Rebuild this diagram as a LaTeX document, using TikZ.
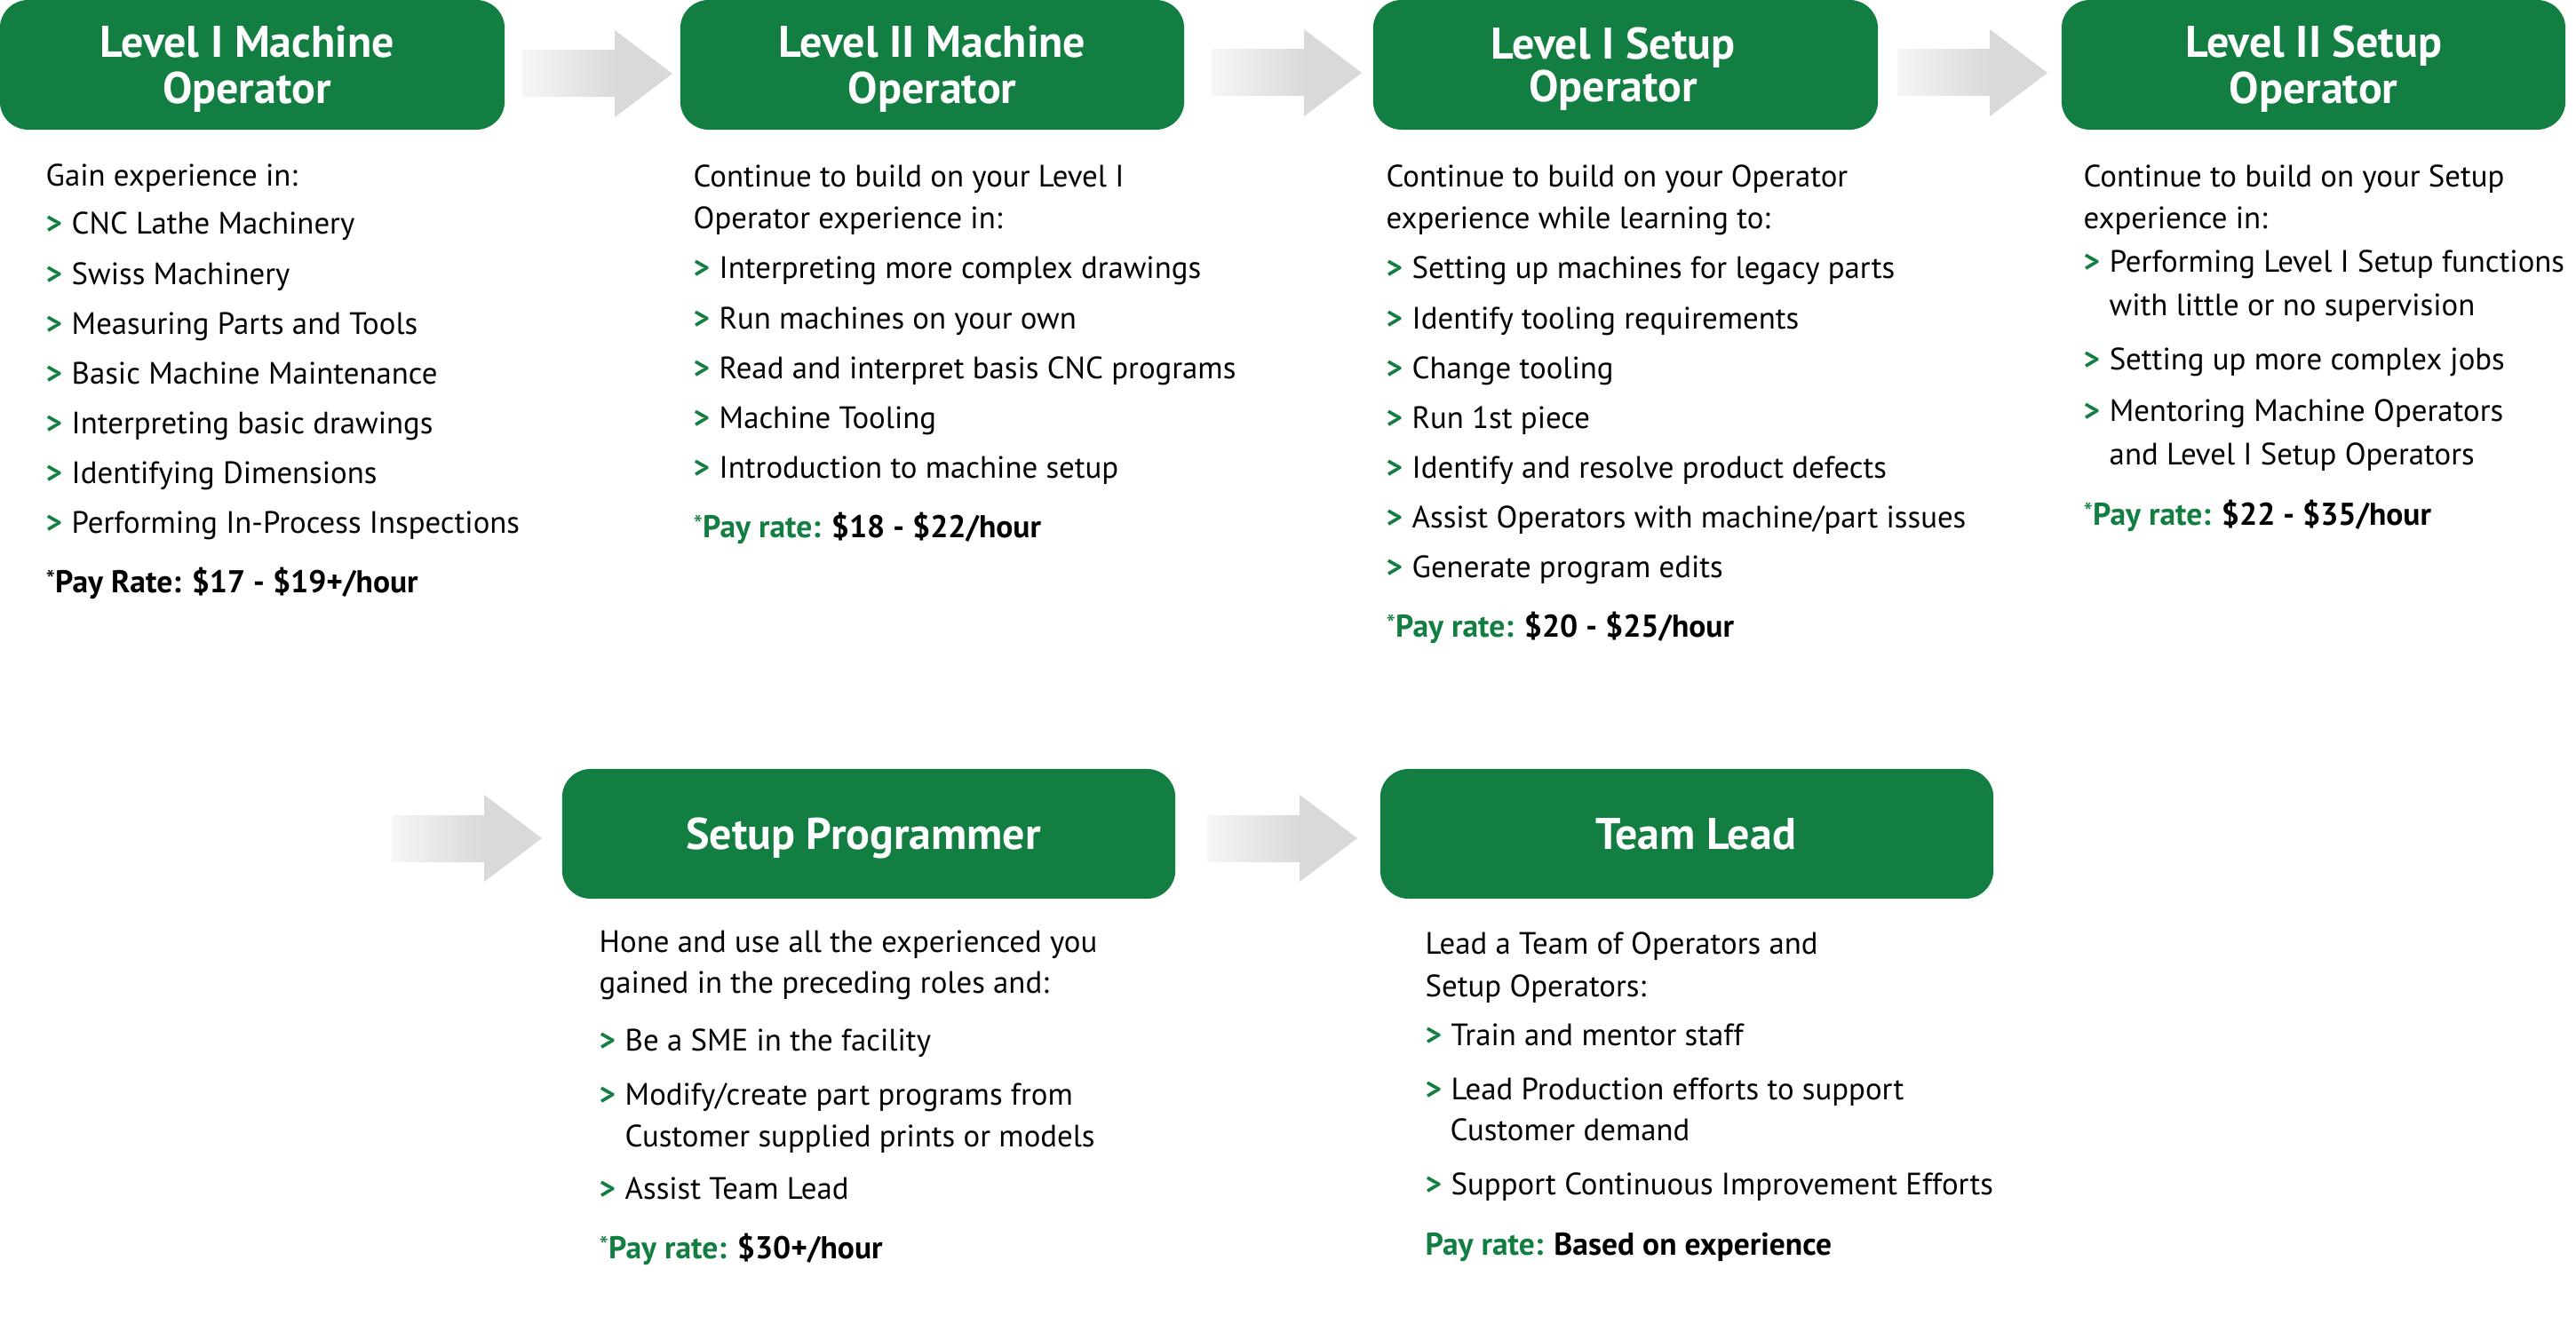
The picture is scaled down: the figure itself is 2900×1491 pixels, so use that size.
\documentclass[tikz,border=0pt]{standalone}
\usepackage{fontspec}
\setmainfont{PT Sans}
\definecolor{grn}{RGB}{19,126,65}
\definecolor{arrD}{RGB}{216,217,219}
\definecolor{arrL}{RGB}{246,246,247}
\newcommand\bul{\makebox[0.29cm][l]{\textcolor{grn}{\bfseries >}}}
\newcommand\payast{\raisebox{0.1em}{\mdseries\fontsize{8.5}{8.5}\selectfont *}}
\newcommand\paytag[1]{\payast\textcolor{#1}{Pay rate:}}
\begin{document}
\begin{tikzpicture}[x=0.01cm,y=-0.01cm,
  hdr/.style={fill=grn, rounded corners=0.32cm, text=white, align=center,
    font=\bfseries\fontsize{14.2}{14.8}\selectfont, minimum height=1.46cm,
    inner sep=0pt, text depth=0pt},
  txt/.style={anchor=base west, inner sep=0pt, font=\fontsize{9.9}{11}\selectfont},
  paytxt/.style={anchor=base west, inner sep=0pt, font=\bfseries\fontsize{10.1}{11}\selectfont},
  barrow/.pic={
    \shade[left color=arrL, right color=arrD] (0,-26) rectangle (105,26);
    \fill[arrD] (104,-49) -- (169,0) -- (104,49) -- cycle;
  }]
\fill[white] (0,0) rectangle (2900,1491);
\useasboundingbox (0,0) rectangle (2900,1491);

% header boxes
\node[hdr, minimum width=5.68cm] (b1) at (284,73) {Level I Machine\hspace*{0.12cm}\\Operator\hspace*{0.12cm}};
\node[hdr, minimum width=5.67cm] (b2) at (1049.5,73) {Level II Machine\\Operator};
\node[hdr, minimum width=5.68cm, font=\bfseries\fontsize{14.2}{13.6}\selectfont] (b3) at (1830,73) {Level I Setup\hspace*{0.28cm}\\Operator\hspace*{0.28cm}};
\node[hdr, minimum width=5.67cm] (b4) at (2604.5,73) {Level II Setup\\Operator};
\node[hdr, minimum width=6.90cm] (b5) at (978,939) {Setup Programmer\hspace*{0.12cm}};
\node[hdr, minimum width=6.90cm] (b6) at (1899,939) {\hspace*{0.2cm}Team Lead};

% block arrows
\pic (a1) at (588,83) {barrow};
\pic (a2) at (1364,82) {barrow};
\pic (a3) at (2136,82) {barrow};
\pic (a4) at (441,944) {barrow};
\pic (a5) at (1359,944) {barrow};

% column 1
\node[txt] (c1a) at (51,209) {Gain experience in:};
\node[txt] (c1b) at (51,264) {\bul CNC Lathe Machinery};
\node[txt] (c1c) at (51,320) {\bul Swiss Machinery};
\node[txt] (c1d) at (51,376) {\bul Measuring Parts and Tools};
\node[txt] (c1e) at (51,432) {\bul Basic Machine Maintenance};
\node[txt] (c1f) at (51,488) {\bul Interpreting basic drawings};
\node[txt] (c1g) at (51,544) {\bul Identifying Dimensions};
\node[txt] (c1h) at (51,600) {\bul Performing In-Process Inspections};
\node[paytxt] (c1p) at (51,667) {\payast Pay Rate: \$17 - \$19+/hour};

% column 2
\node[txt] (c2a) at (780,210) {Continue to build on your Level I};
\node[txt] (c2b) at (780,258) {Operator experience in:};
\node[txt] (c2c) at (780,314) {\bul Interpreting more complex drawings};
\node[txt] (c2d) at (780,370) {\bul Run machines on your own};
\node[txt] (c2e) at (780,426) {\bul Read and interpret basis CNC programs};
\node[txt] (c2f) at (780,482) {\bul Machine Tooling};
\node[txt] (c2g) at (780,538) {\bul Introduction to machine setup};
\node[paytxt] (c2p) at (780,605) {\textcolor{grn}{\paytag{grn}} \$18 - \$22/hour};

% column 3
\node[txt] (c3a) at (1560,210) {Continue to build on your Operator};
\node[txt] (c3b) at (1560,258) {experience while learning to:};
\node[txt] (c3c) at (1560,314) {\bul Setting up machines for legacy parts};
\node[txt] (c3d) at (1560,370) {\bul Identify tooling requirements};
\node[txt] (c3e) at (1560,426) {\bul Change tooling};
\node[txt] (c3f) at (1560,482) {\bul Run 1st piece};
\node[txt] (c3g) at (1560,538) {\bul Identify and resolve product defects};
\node[txt] (c3h) at (1560,594) {\bul Assist Operators with machine/part issues};
\node[txt] (c3i) at (1560,650) {\bul Generate program edits};
\node[paytxt] (c3p) at (1560,717) {\textcolor{grn}{\paytag{grn}} \$20 - \$25/hour};

% column 4
\node[txt] (c4a) at (2345,210) {Continue to build on your Setup};
\node[txt] (c4b) at (2345,258) {experience in:};
\node[txt] (c4c) at (2345,307) {\bul Performing Level I Setup functions};
\node[txt] (c4d) at (2374,355) {with little or no supervision};
\node[txt] (c4e) at (2345,416) {\bul Setting up more complex jobs};
\node[txt] (c4f) at (2345,474) {\bul Mentoring Machine Operators};
\node[txt] (c4g) at (2374,523) {and Level I Setup Operators};
\node[paytxt] (c4p) at (2345,591) {\textcolor{grn}{\paytag{grn}} \$22 - \$35/hour};

% setup programmer
\node[txt] (c5a) at (674,1072) {Hone and use all the experienced you};
\node[txt] (c5b) at (674,1118) {gained in the preceding roles and:};
\node[txt] (c5c) at (674,1183) {\bul Be a SME in the facility};
\node[txt] (c5d) at (674,1244) {\bul Modify/create part programs from};
\node[txt] (c5e) at (703,1291) {Customer supplied prints or models};
\node[txt] (c5f) at (674,1350) {\bul Assist Team Lead};
\node[paytxt] (c5p) at (674,1417) {\textcolor{grn}{\paytag{grn}} \$30+/hour};

% team lead
\node[txt] (c6a) at (1604,1074) {Lead a Team of Operators and};
\node[txt] (c6b) at (1604,1122) {Setup Operators:};
\node[txt] (c6c) at (1604,1177) {\bul Train and mentor staff};
\node[txt] (c6d) at (1604,1238) {\bul Lead Production efforts to support};
\node[txt] (c6e) at (1632,1284) {Customer demand};
\node[txt] (c6f) at (1604,1345) {\bul Support Continuous Improvement Efforts};
\node[paytxt] (c6p) at (1604,1413) {\textcolor{grn}{Pay rate:} Based on experience};
\end{tikzpicture}
\end{document}
